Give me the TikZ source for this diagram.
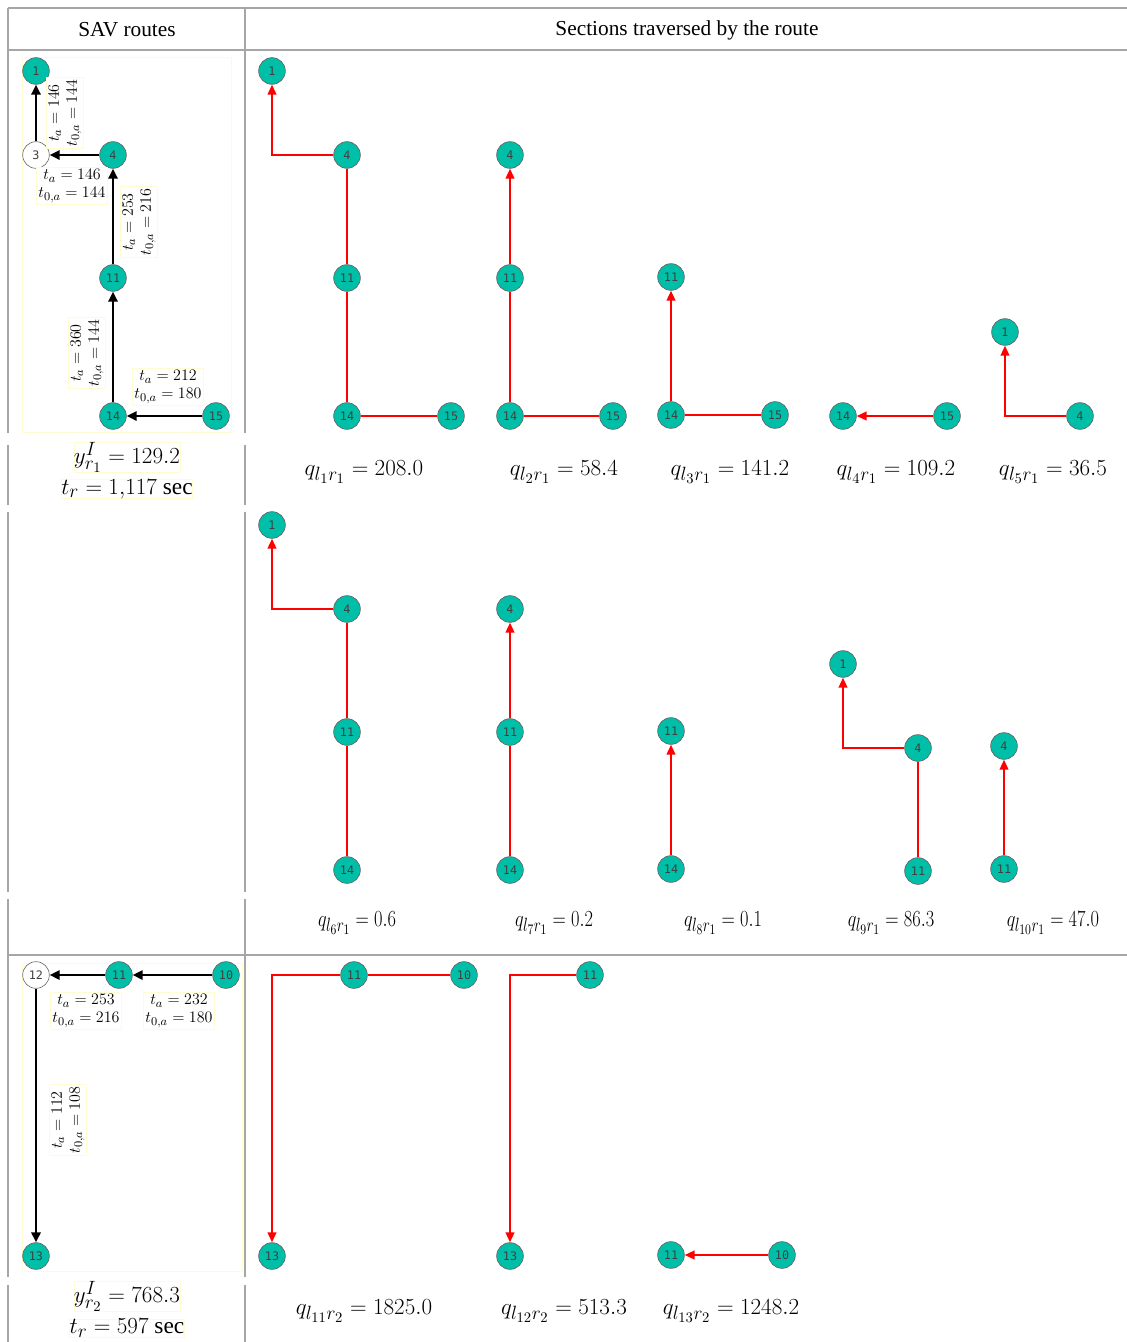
\documentclass[tikz,border=0pt]{standalone}
\usepackage{fontspec}
\setmainfont{Liberation Serif}
\newfontfamily\numfont{DejaVu Sans Mono}
\usetikzlibrary{arrows.meta}
% larger sub/superscripts for the formula labels
\DeclareMathSizes{12}{12}{9.5}{7.5}
\DeclareMathSizes{17.5}{17.5}{13.5}{10.5}
\DeclareMathSizes{19}{19}{14.5}{11}
\definecolor{nodeteal}{RGB}{0,191,168}
\definecolor{rulegray}{RGB}{166,166,166}
\definecolor{boxyellow}{RGB}{255,252,212}
\tikzset{
  nd/.style={circle, fill=nodeteal, draw=black!60, line width=0.5pt,
    minimum size=20pt, inner sep=0pt, text=black!75,
    font=\numfont\fontsize{8.8}{9}\selectfont},
  wn/.style={nd, fill=white, draw=black!55},
  blk/.style={draw=black, line width=1.5pt, -{Triangle[length=7.5pt,width=7pt]}},
  rd/.style={draw=red, line width=1.5pt, -{Triangle[length=7.5pt,width=6.5pt]}},
  lbl/.style={draw=boxyellow, line width=0.4pt, fill=white, align=center,
    inner sep=1.5pt, font=\fontsize{12}{13.5}\selectfont},
  lblv/.style={lbl, rotate=90},
  res/.style={draw=boxyellow, line width=0.4pt, inner sep=0pt,
    font=\fontsize{17.5}{20}\selectfont},
  qlab/.style={font=\fontsize{17.5}{20}\selectfont},
  qlabn/.style={font=\fontsize{19}{20}\selectfont},
  hdr/.style={font=\fontsize{16}{19}\selectfont},
  tbl/.style={draw=rulegray, line width=1.3pt},
  panel/.style={draw=boxyellow, line width=0.5pt}
}
\begin{document}
\begin{tikzpicture}[x=0.75pt,y=-0.75pt]
\useasboundingbox (0,0) rectangle (1127,1342);

% table rules
\draw[tbl] (8,8) -- (1127,8);
\draw[tbl] (8,50) -- (1127,50);
\draw[tbl] (8,955) -- (1127,955);
\foreach \xx in {8,245}{
  \draw[tbl] (\xx,8) -- (\xx,433);
  \draw[tbl] (\xx,445) -- (\xx,505);
  \draw[tbl] (\xx,512) -- (\xx,892);
  \draw[tbl] (\xx,899) -- (\xx,1277);
  \draw[tbl] (\xx,1285) -- (\xx,1342);
}

% headers
\node[hdr] (h1) at (127,30) {SAV routes};
\node[hdr] (h2) at (687,30) {Sections traversed by the route};

% ---------- route r1 ----------
\draw[panel] (22,57) rectangle (231,432);
\node[nd] (a1) at (36,71) {1};
\node[wn] (a3) at (36,155) {3};
\node[nd] (a4) at (113,155) {4};
\node[nd] (a11) at (113,278) {11};
\node[nd] (a14) at (113,416) {14};
\node[nd] (a15) at (216,416) {15};
\draw[blk] (a3) -- (a1);
\draw[blk] (a4) -- (a3);
\draw[blk] (a11) -- (a4);
\draw[blk] (a14) -- (a11);
\draw[blk] (a15) -- (a14);
\node[lblv] (la1) at (65,113) {$t_a = 146$\\$t_{0,a} = 144$};
\node[lbl] (la2) at (72,186) {$t_a = 146$\\$t_{0,a} = 144$};
\node[lblv] (la3) at (139,222) {$t_a = 253$\\$t_{0,a} = 216$};
\node[lblv] (la4) at (87,353) {$t_a = 360$\\$t_{0,a} = 144$};
\node[lbl] (la5) at (168,387) {$t_a = 212$\\$t_{0,a} = 180$};
\node[res] (ry1) at (127,457) {$y^{I}_{r_1} = 129.2$};
\node[res] (rt1) at (127,489) {$t_r = 1{,}117$ sec};

% sections l1..l5
\node[nd] (b1) at (272,71) {1};
\node[nd] (b4) at (347,155) {4};
\node[nd] (b11) at (347,278) {11};
\node[nd] (b14) at (347,416) {14};
\node[nd] (b15) at (451,416) {15};
\draw[rd] (b15) -- (b14) -- (b11) -- (b4) -| (b1);

\node[nd] (c4) at (510,155) {4};
\node[nd] (c11) at (510,278) {11};
\node[nd] (c14) at (510,416) {14};
\node[nd] (c15) at (613,416) {15};
\draw[rd] (c15) -- (c14) -- (c11) -- (c4);

\node[nd] (d11) at (671,277) {11};
\node[nd] (d14) at (671,415) {14};
\node[nd] (d15) at (775,415) {15};
\draw[rd] (d15) -- (d14) -- (d11);

\node[nd] (e14) at (843,416) {14};
\node[nd] (e15) at (947,416) {15};
\draw[rd] (e15) -- (e14);

\node[nd] (f1) at (1005,332) {1};
\node[nd] (f4) at (1080,416) {4};
\draw[rd] (f4) -| (f1);

\node[qlab] (q1) at (364,472) {$q_{l_1r_1} = 208.0$};
\node[qlab] (q2) at (564,472) {$q_{l_2r_1} = 58.4$};
\node[qlab] (q3) at (730,472) {$q_{l_3r_1} = 141.2$};
\node[qlab] (q4) at (896,472) {$q_{l_4r_1} = 109.2$};
\node[qlab] (q5) at (1053,472) {$q_{l_5r_1} = 36.5$};

% sections l6..l10
\node[nd] (g1) at (272,525) {1};
\node[nd] (g4) at (347,609) {4};
\node[nd] (g11) at (347,732) {11};
\node[nd] (g14) at (347,870) {14};
\draw[rd] (g14) -- (g11) -- (g4) -| (g1);

\node[nd] (h4) at (510,609) {4};
\node[nd] (h11) at (510,732) {11};
\node[nd] (h14) at (510,870) {14};
\draw[rd] (h14) -- (h11) -- (h4);

\node[nd] (i11) at (671,731) {11};
\node[nd] (i14) at (671,869) {14};
\draw[rd] (i14) -- (i11);

\node[nd] (j1) at (843,664) {1};
\node[nd] (j4) at (918,748) {4};
\node[nd] (j11) at (918,871) {11};
\draw[rd] (j11) -- (j4) -| (j1);

\node[nd] (k4) at (1004,746) {4};
\node[nd] (k11) at (1004,869) {11};
\draw[rd] (k11) -- (k4);

\node[qlabn] (q6) at (357,923) {\scalebox{0.8}[1]{$q_{l_6r_1} = 0.6$}};
\node[qlabn] (q7) at (554,923) {\scalebox{0.8}[1]{$q_{l_7r_1} = 0.2$}};
\node[qlabn] (q8) at (723,923) {\scalebox{0.8}[1]{$q_{l_8r_1} = 0.1$}};
\node[qlabn] (q9) at (891,923) {\scalebox{0.8}[1]{$q_{l_9r_1} = 86.3$}};
\node[qlabn] (q10) at (1053,923) {\scalebox{0.8}[1]{$q_{l_{10}r_1} = 47.0$}};

% ---------- route r2 ----------
\draw[panel] (22,963) rectangle (242,1271);
\node[wn] (m12) at (36,975) {12};
\node[nd] (m11) at (119,975) {11};
\node[nd] (m10) at (226,975) {10};
\node[nd] (m13) at (36,1256) {13};
\draw[blk] (m10) -- (m11);
\draw[blk] (m11) -- (m12);
\draw[blk] (m12) -- (m13);
\node[lbl] (lm1) at (86,1011) {$t_a = 253$\\$t_{0,a} = 216$};
\node[lbl] (lm2) at (179,1011) {$t_a = 232$\\$t_{0,a} = 180$};
\node[lblv] (lm3) at (68,1120) {$t_a = 112$\\$t_{0,a} = 108$};
\node[res] (ry2) at (127,1296) {$y^{I}_{r_2} = 768.3$};
\node[res] (rt2) at (127,1328) {$t_r = 597$ sec};

% sections l11..l13
\node[nd] (n11) at (354,975) {11};
\node[nd] (n10) at (464,975) {10};
\node[nd] (n13) at (272,1256) {13};
\draw[rd] (n10) -- (n11) -| (n13);

\node[nd] (o11) at (590,975) {11};
\node[nd] (o13) at (510,1256) {13};
\draw[rd] (o11) -| (o13);

\node[nd] (p11) at (671,1255) {11};
\node[nd] (p10) at (782,1255) {10};
\draw[rd] (p10) -- (p11);

\node[qlab] (q11) at (364,1311) {$q_{l_{11}r_2} = 1825.0$};
\node[qlab] (q12) at (564,1311) {$q_{l_{12}r_2} = 513.3$};
\node[qlab] (q13) at (731,1311) {$q_{l_{13}r_2} = 1248.2$};
\end{tikzpicture}
\end{document}
